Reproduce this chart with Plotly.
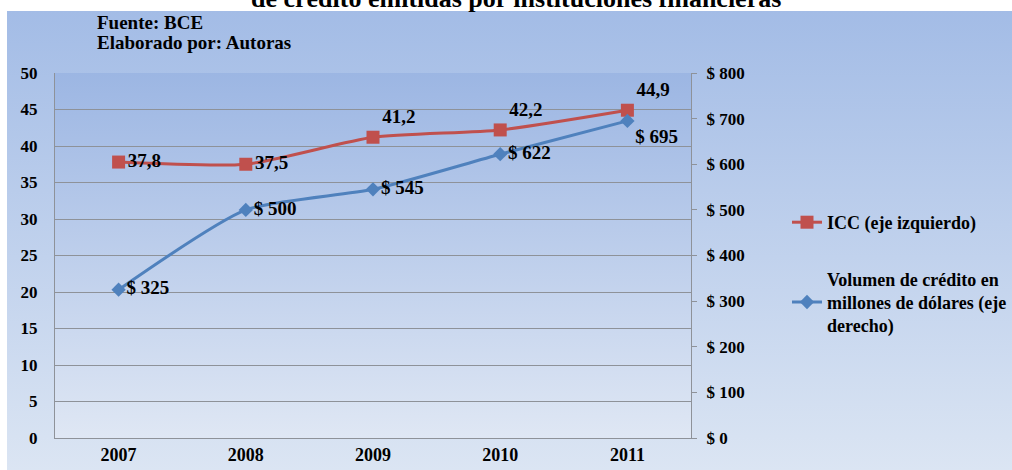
import base64
import plotly.graph_objects as go

# data
years = ["2007", "2008", "2009", "2010", "2011"]
icc = [37.8, 37.5, 41.2, 42.2, 44.9]
volumen = [325, 500, 545, 622, 695]

icc_pos = ["middle right", "middle right", "top right", "top right", "top right"]
vol_pos = ["middle right", "middle right", "middle right", "middle right", "bottom right"]

SERIF = "Liberation Serif"
RED = "#c0504d"
BLUE = "#4f81bd"
GRID = "#8e9299"


def gradient_uri(top, bottom):
    svg = ('<svg xmlns="http://www.w3.org/2000/svg" width="100" height="100" preserveAspectRatio="none">'
           '<defs><linearGradient id="g" x1="0" y1="0" x2="0" y2="1">'
           '<stop offset="0" stop-color="%s"/><stop offset="1" stop-color="%s"/>'
           '</linearGradient></defs><rect width="100" height="100" fill="url(#g)"/></svg>') % (top, bottom)
    return "data:image/svg+xml;base64," + base64.b64encode(svg.encode()).decode()


def bold(size):
    return dict(family=SERIF, size=size, color="black", weight="bold")


# pixel geometry of the plot area
W, H = 1012, 470
L, R, T, B = 55, 691, 73, 438
pw, ph = R - L, B - T


def px(x):
    return (x - L) / pw


def py(y):
    return (B - y) / ph


fig = go.Figure()

fig.add_trace(go.Scatter(
    x=years, y=icc,
    mode="lines+markers+text",
    name="ICC (eje izquierdo)",
    legendgroup="a",
    line=dict(color=RED, width=3, shape="spline", smoothing=0.6),
    marker=dict(symbol="square", size=13, color=RED),
    text=[("%.1f" % v).replace(".", ",") for v in icc],
    textposition=icc_pos,
    textfont=bold(19),
    cliponaxis=False,
))

fig.add_trace(go.Scatter(
    x=years, y=volumen,
    yaxis="y2",
    mode="lines+markers+text",
    name="Volumen de crédito en<br>millones de dólares (eje<br>derecho)",
    legendgroup="b",
    line=dict(color=BLUE, width=3, shape="spline", smoothing=0.6),
    marker=dict(symbol="diamond", size=11, color=BLUE),
    text=["$ %d" % v for v in volumen],
    textposition=vol_pos,
    textfont=bold(19),
    cliponaxis=False,
))

fig.update_layout(
    width=W, height=H,
    margin=dict(l=L, r=W - R, t=T, b=H - B, pad=0, autoexpand=False),
    paper_bgcolor="white",
    plot_bgcolor="rgba(0,0,0,0)",
    showlegend=True,
    legend=dict(
        x=px(787), y=py(204), xanchor="left", yanchor="top",
        bgcolor="rgba(0,0,0,0)",
        font=bold(18),
        traceorder="grouped", tracegroupgap=30,
    ),
    xaxis=dict(
        type="category", range=[-0.5, 4.5],
        showline=True, linecolor=GRID, linewidth=1,
        showgrid=False, ticks="", tickfont=bold(18),
    ),
    yaxis=dict(
        range=[0, 50], dtick=5,
        showline=True, linecolor=GRID, linewidth=1,
        showgrid=True, gridcolor=GRID, gridwidth=1,
        zeroline=False, ticks="", tickfont=bold(17), ticklabelstandoff=13,
    ),
    yaxis2=dict(
        range=[0, 800], dtick=100, overlaying="y", side="right",
        tickprefix="$ ", showline=True, linecolor=GRID, linewidth=1,
        showgrid=False, zeroline=False,
        ticks="outside", ticklen=5, tickcolor=GRID, tickfont=bold(17),
        ticklabelstandoff=6,
    ),
    images=[
        dict(source=gradient_uri("#a3bce6", "#dbe5f3"), xref="paper", yref="paper",
             x=px(7), y=py(11), sizex=(W - 7) / pw, sizey=(H - 11) / ph,
             xanchor="left", yanchor="top", sizing="stretch", layer="below"),
        dict(source=gradient_uri("#9cb6e3", "#dfe7f4"), xref="paper", yref="paper",
             x=0, y=1, sizex=1, sizey=1,
             xanchor="left", yanchor="top", sizing="stretch", layer="below"),
    ],
    annotations=[
        dict(text="de crédito emitidas por instituciones financieras",
             xref="paper", yref="paper", x=px(516), y=py(-2),
             xanchor="center", yanchor="middle", showarrow=False, font=bold(26)),
        dict(text="Fuente: BCE", xref="paper", yref="paper",
             x=px(95), y=py(23), xanchor="left", yanchor="middle",
             showarrow=False, font=bold(19)),
        dict(text="Elaborado por: Autoras", xref="paper", yref="paper",
             x=px(95), y=py(42), xanchor="left", yanchor="middle",
             showarrow=False, font=bold(19)),
    ],
)

fig.write_html("out.html", config={"displayModeBar": False},
               post_script="document.body.style.margin='0px';")
